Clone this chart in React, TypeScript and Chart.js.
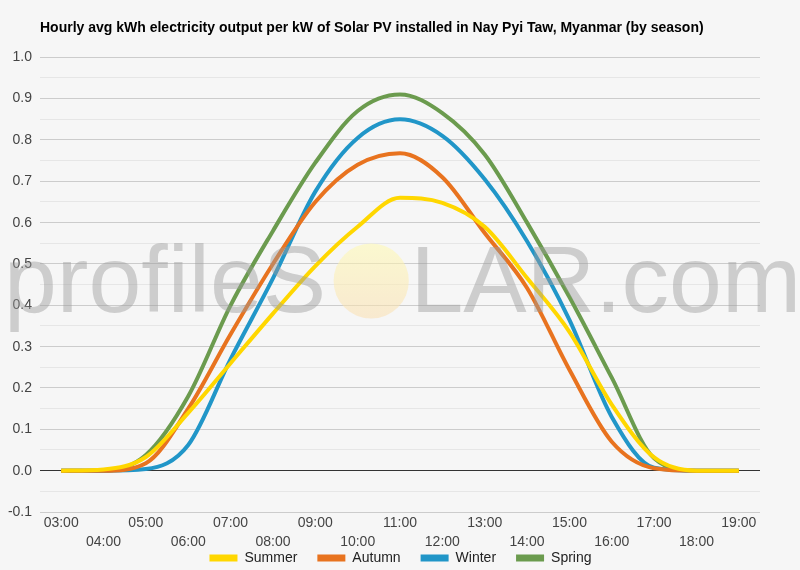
import { useEffect, useRef } from 'react';
import { Chart, registerables } from 'chart.js';

Chart.register(...registerables);

const hours = ['03:00', '04:00', '05:00', '06:00', '07:00', '08:00', '09:00', '10:00', '11:00', '12:00', '13:00', '14:00', '15:00', '16:00', '17:00', '18:00', '19:00'];
const summer = [0, 0.003, 0.033, 0.14, 0.26, 0.38, 0.495, 0.59, 0.66, 0.648, 0.59, 0.466, 0.336, 0.16, 0.032, 0, 0];
const autumn = [0, 0, 0.018, 0.15, 0.33, 0.5, 0.65, 0.74, 0.768, 0.71, 0.575, 0.442, 0.244, 0.07, 0.006, 0, 0];
const winter = [0, 0, 0.004, 0.062, 0.27, 0.465, 0.675, 0.805, 0.85, 0.81, 0.705, 0.555, 0.365, 0.13, 0.007, 0, 0];
const spring = [0, 0, 0.038, 0.18, 0.4, 0.58, 0.745, 0.87, 0.91, 0.865, 0.765, 0.6, 0.42, 0.225, 0.03, 0, 0];
const seriesNames = ['Summer', 'Autumn', 'Winter', 'Spring'];
const seriesColors = ['#FFD700', '#E8731F', '#2196C8', '#6B9B4E'];
const titleText = 'Hourly avg kWh electricity output per kW of Solar PV installed in Nay Pyi Taw, Myanmar (by season)';
const yMin = -0.1;
const yMax = 1.0;
const yStep = 0.05;
const watermarkLeft = 'profileS';
const watermarkRight = 'LAR.com';

const FONT = '"Liberation Sans", Arial, sans-serif';

const watermarkPlugin = {
  id: 'watermark',
  afterDatasetsDraw(chart: any) {
    const ctx = chart.ctx as CanvasRenderingContext2D;
    const w = chart.width;
    const h = chart.height;
    ctx.save();
    ctx.font = `${Math.round(w * 0.1185)}px ${FONT}`;
    ctx.textBaseline = 'alphabetic';
    ctx.textAlign = 'left';
    ctx.fillStyle = 'rgba(155,155,155,0.45)';
    const base = h * 0.547;
    ctx.fillText(watermarkLeft, w * 0.005, base);
    ctx.fillText(watermarkRight, w * 0.513, base);
    const cx = w * 0.464;
    const cy = h * 0.493;
    const r = w * 0.047;
    const g = ctx.createLinearGradient(0, cy - r, 0, cy + r);
    g.addColorStop(0, 'rgba(255,250,175,0.55)');
    g.addColorStop(1, 'rgba(250,222,175,0.55)');
    ctx.fillStyle = g;
    ctx.beginPath();
    ctx.arc(cx, cy, r, 0, Math.PI * 2);
    ctx.fill();
    ctx.restore();
  },
};

// The legend sits partly beside the second row of hour labels, as in the original:
// extend its box upwards (after layout) so the labels row fits inside it.
const legendShiftPlugin = {
  id: 'legendShift',
  afterLayout(chart: any) {
    const lg = chart.legend;
    if (!lg) return;
    const dy = 19.5;
    const dx = 20.5;
    lg.top -= dy;
    lg.height = lg.bottom - lg.top;
    lg.left += dx;
    lg.right += dx;
  },
};

export default function App() {
  const canvasRef = useRef<HTMLCanvasElement | null>(null);

  useEffect(() => {
    if (!canvasRef.current) return;
    const seriesValues = [summer, autumn, winter, spring];
    const chart = new Chart(canvasRef.current, {
      type: 'line',
      data: {
        labels: hours,
        datasets: seriesNames.map((name, i) => ({
          label: name,
          data: seriesValues[i],
          borderColor: seriesColors[i],
          backgroundColor: seriesColors[i],
          borderWidth: 4,
          pointRadius: 0,
          pointHoverRadius: 0,
          cubicInterpolationMode: 'monotone',
          fill: false,
        })),
      },
      options: {
        responsive: false,
        animation: false,
        layout: { padding: { left: 0, right: 40, top: 0, bottom: 0 } },
        plugins: {
          title: {
            display: true,
            text: titleText,
            align: 'start',
            fullSize: false,
            color: '#000',
            font: { size: 14, weight: 'bold', family: FONT },
            padding: { top: 19.6, bottom: 20.9 },
          },
          legend: {
            position: 'bottom',
            maxHeight: 19.5,
            labels: {
              font: { size: 14, family: FONT },
              color: '#222',
              boxWidth: 28,
              boxHeight: 7,
              padding: 20,
              generateLabels(c: any) {
                return c.data.datasets.map((ds: any, i: number) => ({
                  text: ds.label,
                  fillStyle: ds.borderColor,
                  strokeStyle: ds.borderColor,
                  lineWidth: 0,
                  hidden: false,
                  datasetIndex: i,
                  fontColor: '#222',
                }));
              },
            },
          },
          tooltip: { enabled: false },
        },
        scales: {
          x: {
            type: 'category',
            offset: true,
            grid: { display: false, drawTicks: false },
            border: { display: false },
            afterFit(scale: any) {
              scale.height = 38.5;
            },
            ticks: {
              autoSkip: false,
              maxRotation: 0,
              minRotation: 0,
              padding: 2,
              color: '#444',
              font: { size: 14, family: FONT, lineHeight: 1.35 },
              callback(_v: any, index: number) {
                const lab = hours[index];
                return index % 2 === 0 ? lab : ['', lab];
              },
            },
          },
          y: {
            min: yMin,
            max: yMax,
            afterFit(scale: any) {
              scale.width = 40;
            },
            border: { display: false },
            grid: {
              drawTicks: false,
              lineWidth: 1,
              color(ctx: any) {
                const v = ctx.tick ? ctx.tick.value : 1;
                if (Math.abs(v) < 1e-9) return '#333';
                const k = Math.round(v / yStep);
                return Math.abs(k) % 2 === 0 ? '#cccccc' : '#e6e6e6';
              },
            },
            ticks: {
              stepSize: yStep,
              maxTicksLimit: 40,
              padding: 8,
              color: '#444',
              font: { size: 14, family: FONT },
              callback(value: any) {
                const v = Number(value);
                const k = Math.round(v / yStep);
                return Math.abs(k) % 2 === 0 ? v.toFixed(1) : '';
              },
            },
          },
        },
      },
      plugins: [watermarkPlugin, legendShiftPlugin],
    } as any);
    return () => chart.destroy();
  }, []);

  return (
    <div style={{ position: 'absolute', left: 0, top: 0, width: 800, height: 570, background: '#f6f6f6' }}>
      <canvas ref={canvasRef} width={800} height={570} style={{ display: 'block' }} />
    </div>
  );
}
